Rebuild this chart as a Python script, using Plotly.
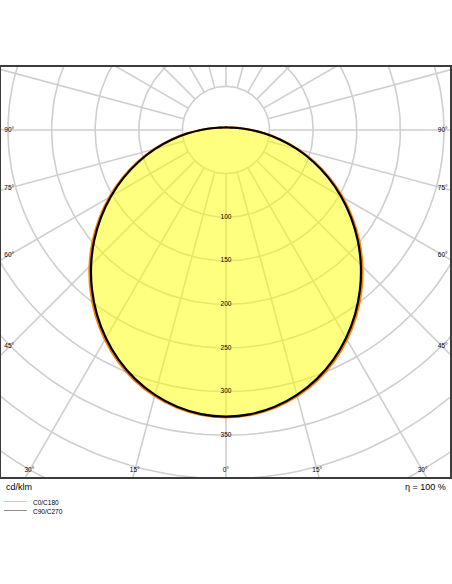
import math
import plotly.graph_objects as go

# ---------------- data (cd/klm) ----------------
gamma_deg = [0, 5, 10, 15, 20, 25, 30, 35, 40, 45, 50, 55, 60, 65, 70, 75, 80, 85,
             90, 95, 100, 105, 110, 120, 135, 150, 165, 180]
c0_c180 = [329.5, 328.0, 323.5, 316.0, 305.8, 292.9, 277.6, 260.5, 241.5, 221.3, 199.9, 177.6,
           154.8, 131.6, 108.5, 85.9, 64.2, 44.7, 29.2, 18.9, 13.2, 9.9, 7.8, 5.6, 4.0, 3.3, 3.0, 2.9]
c90_c270 = [328.6, 327.0, 322.3, 314.5, 304.0, 290.9, 275.4, 258.1, 239.0, 218.7, 197.3, 175.1,
            152.4, 129.4, 106.5, 84.1, 62.7, 43.7, 28.7, 18.9, 13.2, 9.9, 7.8, 5.6, 4.0, 3.3, 3.0, 2.9]

grid_radii = [50, 100, 150, 200, 250, 300, 350, 400, 450]
grid_angles = list(range(0, 360, 15))
radial_tick_values = [100, 150, 200, 250, 300, 350]
side_angle_ticks = [90, 75, 60, 45]
bottom_angle_ticks = [-30, -15, 0, 15, 30]
legend_names = ["C0/C180", "C90/C270"]
unit_label = "cd/klm"
efficiency_label = "η = 100 %"

FONT = "Liberation Sans, Arial, sans-serif"
GRID = "#cfcfcf"


def polar_curve(gam, vals):
    xs, ys = [], []
    for g, r in zip(gam, vals):  # right half, nadir -> zenith
        t = math.radians(g)
        xs.append(r * math.sin(t)); ys.append(-r * math.cos(t))
    for g, r in zip(reversed(gam[:-1]), reversed(vals[:-1])):  # left half, zenith -> nadir
        t = math.radians(g)
        xs.append(-r * math.sin(t)); ys.append(-r * math.cos(t))
    return xs, ys


fig = go.Figure()

# grid circles
for rr in grid_radii:
    ts = [math.radians(a) for a in range(0, 361, 2)]
    fig.add_trace(go.Scatter(x=[rr * math.sin(t) for t in ts], y=[-rr * math.cos(t) for t in ts],
                             mode="lines", line=dict(color=GRID, width=1.6),
                             hoverinfo="skip", showlegend=False))
# radial grid lines (starting at the first circle)
r0, r1 = grid_radii[0], 700
for a in grid_angles:
    t = math.radians(a)
    fig.add_trace(go.Scatter(x=[r0 * math.sin(t), r1 * math.sin(t)],
                             y=[-r0 * math.cos(t), -r1 * math.cos(t)],
                             mode="lines", line=dict(color=GRID, width=1.6),
                             hoverinfo="skip", showlegend=False))

# curves
x0, y0 = polar_curve(gamma_deg, c0_c180)
fig.add_trace(go.Scatter(x=x0, y=y0, mode="lines", name=legend_names[0],
                         line=dict(color="#ff7f00", width=2.2, shape="spline", smoothing=1),
                         fill="toself", fillcolor="rgba(255,255,0,0.5)", showlegend=False))
x1, y1 = polar_curve(gamma_deg, c90_c270)
fig.add_trace(go.Scatter(x=x1, y=y1, mode="lines", name=legend_names[1],
                         line=dict(color="#000000", width=2.2, shape="spline", smoothing=1),
                         showlegend=False))

# radial value labels
fig.add_trace(go.Scatter(x=[0] * len(radial_tick_values), y=[-v for v in radial_tick_values],
                         mode="text", text=[str(v) for v in radial_tick_values],
                         textfont=dict(family=FONT, size=6.5, color="#000"),
                         hoverinfo="skip", showlegend=False))

XMIN, XMAX = -258.0, 256.9
YMIN, YMAX = -397.9, 72.2

# angle labels along the frame
side_x = 248.6
bx, by, bt = [], [], []
for a in side_angle_ticks:
    yy = -side_x / math.tan(math.radians(a)) if a != 90 else 0.0
    for s in (-1, 1):
        bx.append(s * side_x); by.append(yy); bt.append(f"{a}°")
bottom_y = -390.5
for a in bottom_angle_ticks:
    bx.append(-bottom_y * math.tan(math.radians(a))); by.append(bottom_y); bt.append(f"{abs(a)}°")
fig.add_trace(go.Scatter(x=bx, y=by, mode="text", text=bt,
                         textfont=dict(family=FONT, size=6.5, color="#000"),
                         hoverinfo="skip", showlegend=False))

fig.update_xaxes(range=[XMIN, XMAX], showgrid=False, zeroline=False, showticklabels=False,
                 ticks="", showline=True, mirror=True, linecolor="#3c3c3c", linewidth=2)
fig.update_yaxes(range=[YMIN, YMAX], showgrid=False, zeroline=False, showticklabels=False,
                 ticks="", showline=True, mirror=True, linecolor="#3c3c3c", linewidth=2)

W, H = 452, 584
ml, mr, mt, mb = 1, 2, 67, 107
pw, ph = W - ml - mr, H - mt - mb


def px_x(p):
    return (p - ml) / pw


def px_y(p):
    return (H - mb - p) / ph


annotations = [
    dict(x=px_x(4), y=px_y(487), xref="paper", yref="paper", text=unit_label, showarrow=False,
         xanchor="left", yanchor="middle", font=dict(family=FONT, size=9, color="#000")),
    dict(x=px_x(448), y=px_y(487), xref="paper", yref="paper", text=efficiency_label,
         showarrow=False, xanchor="right", yanchor="middle",
         font=dict(family=FONT, size=9, color="#000")),
    dict(x=px_x(31), y=px_y(502), xref="paper", yref="paper", text=legend_names[0],
         showarrow=False, xanchor="left", yanchor="middle",
         font=dict(family=FONT, size=6.5, color="#000")),
    dict(x=px_x(31), y=px_y(511), xref="paper", yref="paper", text=legend_names[1],
         showarrow=False, xanchor="left", yanchor="middle",
         font=dict(family=FONT, size=6.5, color="#000")),
]
shapes = [
    dict(type="line", xref="paper", yref="paper", x0=px_x(4), x1=px_x(27), y0=px_y(501.5),
         y1=px_y(501.5), line=dict(color="#ffc080", width=1)),
    dict(type="line", xref="paper", yref="paper", x0=px_x(4), x1=px_x(27), y0=px_y(510.5),
         y1=px_y(510.5), line=dict(color="#8c8c8c", width=1)),
]

fig.update_layout(width=W, height=H, margin=dict(l=ml, r=mr, t=mt, b=mb),
                  paper_bgcolor="white", plot_bgcolor="white", showlegend=False,
                  annotations=annotations, shapes=shapes)

fig.write_html("out.html", config={"displayModeBar": False},
               post_script="document.body.style.margin='0';document.body.style.overflow='hidden';")
